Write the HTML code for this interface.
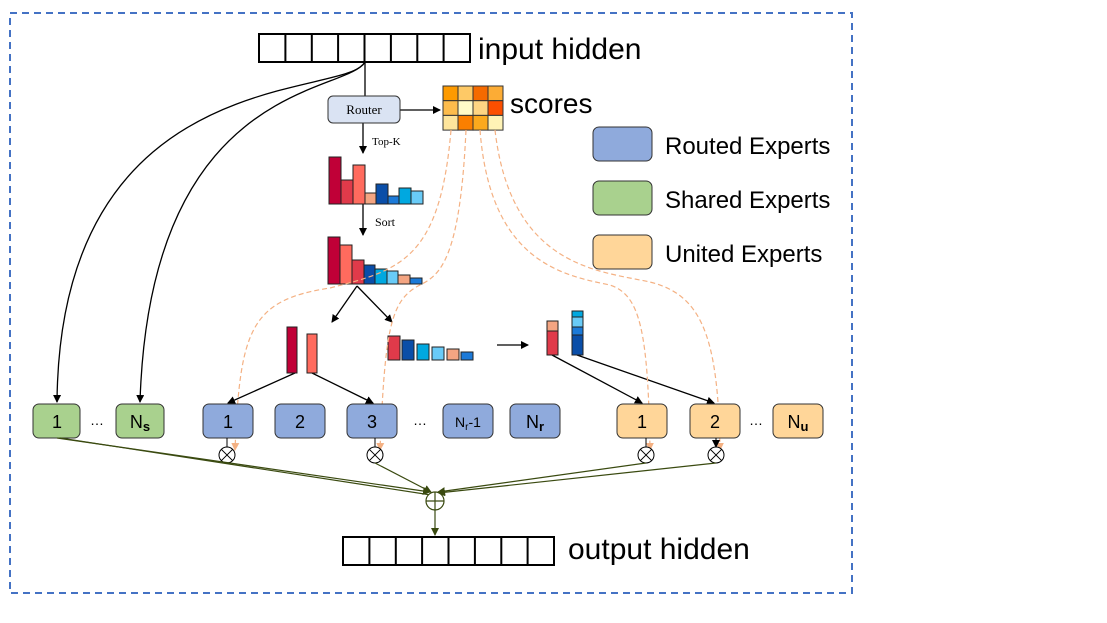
<!DOCTYPE html>
<html><head><meta charset="utf-8"><style>
html,body{margin:0;padding:0;background:#fff;width:1107px;height:623px;overflow:hidden}
svg{display:block}
.s{font-family:"Liberation Sans",sans-serif}
.r{font-family:"Liberation Serif",serif}
</style></head><body>
<svg width="1107" height="623" viewBox="0 0 1107 623" xmlns="http://www.w3.org/2000/svg">
<defs>
<marker id="a" markerWidth="8" markerHeight="8" refX="7" refY="4" orient="auto" markerUnits="userSpaceOnUse"><path d="M0,0 L8,4 L0,8 z" fill="#000"/></marker>
<marker id="g" markerWidth="8" markerHeight="8" refX="7" refY="4" orient="auto" markerUnits="userSpaceOnUse"><path d="M0,0 L8,4 L0,8 z" fill="#3a4a10"/></marker>
<marker id="o" markerWidth="8" markerHeight="8" refX="7" refY="4" orient="auto" markerUnits="userSpaceOnUse"><path d="M0,0 L8,4 L0,8 z" fill="#f4b183"/></marker>
</defs>
<rect x="10" y="13" width="842" height="580" fill="none" stroke="#4472c4" stroke-width="2" stroke-dasharray="7,5"/>
<g fill="none" stroke="#000" stroke-width="2">
<rect x="259" y="34" width="211" height="28"/>
<path d="M285.4,34v28M311.8,34v28M338.1,34v28M364.5,34v28M390.9,34v28M417.3,34v28M443.6,34v28"/>
</g>
<text x="478" y="59" class="s" font-size="30">input hidden</text>
<g fill="none" stroke="#000" stroke-width="1.3">
<path d="M365,62 V96"/>
<path d="M365,62 C345,100 60,60 57,402" marker-end="url(#a)"/>
<path d="M365,62 C345,95 150,80 140,402" marker-end="url(#a)"/>
<path d="M400,110 H440" marker-end="url(#a)"/>
<path d="M363,123 V153" marker-end="url(#a)"/>
<path d="M363,204 V235" marker-end="url(#a)"/>
<path d="M357,286 L332,322" marker-end="url(#a)"/>
<path d="M357,286 L392,322" marker-end="url(#a)"/>
<path d="M497,345 H528" marker-end="url(#a)"/>
<path d="M295,373 L228,403" marker-end="url(#a)"/>
<path d="M312,373 L373,403" marker-end="url(#a)"/>
<path d="M552,355 L642,403" marker-end="url(#a)"/>
<path d="M577,355 L714,403" marker-end="url(#a)"/>
</g>
<rect x="328" y="96" width="72" height="27" rx="5" fill="#dae3f3" stroke="#333" stroke-width="1"/>
<text x="364" y="114" class="r" font-size="13" text-anchor="middle">Router</text>
<text x="372" y="145" class="r" font-size="11">Top-K</text>
<text x="375" y="226" class="r" font-size="12">Sort</text>
<g stroke="#333" stroke-width="1">
<rect x="443" y="86" width="15" height="14.7" fill="#fd9a00"/><rect x="458" y="86" width="15" height="14.7" fill="#fec966"/><rect x="473" y="86" width="15" height="14.7" fill="#f56a00"/><rect x="488" y="86" width="15" height="14.7" fill="#fcac35"/>
<rect x="443" y="100.7" width="15" height="14.7" fill="#fdbc4c"/><rect x="458" y="100.7" width="15" height="14.7" fill="#fffbc8"/><rect x="473" y="100.7" width="15" height="14.7" fill="#fed583"/><rect x="488" y="100.7" width="15" height="14.7" fill="#fc4f00"/>
<rect x="443" y="115.4" width="15" height="14.7" fill="#fee59c"/><rect x="458" y="115.4" width="15" height="14.7" fill="#fb7f00"/><rect x="473" y="115.4" width="15" height="14.7" fill="#fba91d"/><rect x="488" y="115.4" width="15" height="14.7" fill="#fff3b6"/>
</g>
<text x="510" y="113" class="s" font-size="28">scores</text>
<g stroke="#222" stroke-width="1">
<rect x="329" y="157" width="12" height="47" fill="#c00037"/><rect x="341" y="180" width="12" height="24" fill="#e03a4a"/><rect x="353" y="165" width="12" height="39" fill="#ff6b5e"/><rect x="365" y="193" width="11" height="11" fill="#f4a582"/>
<rect x="376" y="184" width="12" height="20" fill="#0a4ea8"/><rect x="388" y="196" width="11" height="8" fill="#1c7ad8"/><rect x="399" y="188" width="12" height="16" fill="#00a8e0"/><rect x="411" y="191" width="12" height="13" fill="#69cbf7"/>
<rect x="328" y="237" width="12" height="47" fill="#c00037"/><rect x="340" y="245" width="12" height="39" fill="#ff6b5e"/><rect x="352" y="260" width="12" height="24" fill="#e03a4a"/><rect x="364" y="265" width="11" height="19" fill="#0a4ea8"/>
<rect x="375" y="269" width="12" height="15" fill="#00a8e0"/><rect x="387" y="271" width="11" height="13" fill="#69cbf7"/><rect x="398" y="275" width="12" height="9" fill="#f4a582"/><rect x="410" y="278" width="12" height="6" fill="#1c7ad8"/>
<rect x="287" y="327" width="10" height="46" fill="#c00037"/><rect x="307" y="334" width="10" height="39" fill="#ff6b5e"/>
<rect x="388" y="336" width="12" height="24" fill="#e03a4a"/><rect x="402" y="340" width="12" height="20" fill="#0a4ea8"/><rect x="417" y="344" width="12" height="16" fill="#00a8e0"/><rect x="432" y="347" width="12" height="13" fill="#69cbf7"/><rect x="447" y="349" width="12" height="11" fill="#f4a582"/><rect x="461" y="352" width="12" height="8" fill="#1c7ad8"/>
<rect x="547" y="321" width="11" height="10" fill="#f4a582"/><rect x="547" y="331" width="11" height="24" fill="#e03a4a"/>
<rect x="572" y="311" width="11" height="6" fill="#00a8e0"/><rect x="572" y="317" width="11" height="10" fill="#69cbf7"/><rect x="572" y="327" width="11" height="8" fill="#1c7ad8"/><rect x="572" y="335" width="11" height="20" fill="#0a4ea8"/>
</g>
<g fill="none" stroke="#f4b183" stroke-width="1.2" stroke-dasharray="5,3">
<path d="M451,130 C440,260 400,270 330,288 C250,300 240,330 235,450" marker-end="url(#o)"/>
<path d="M466,130 C460,260 440,275 420,285 C390,300 385,330 380,450" marker-end="url(#o)"/>
<path d="M480,130 C490,260 560,275 610,285 C640,295 648,330 650,450" marker-end="url(#o)"/>
<path d="M495,130 C510,260 590,270 640,280 C700,290 718,330 720,450" marker-end="url(#o)"/>
</g>
<g stroke="#333" stroke-width="1">
<rect x="33" y="404" width="47" height="34" rx="6" fill="#a9d18e"/><rect x="116" y="404" width="48" height="34" rx="6" fill="#a9d18e"/>
<rect x="203" y="404" width="50" height="34" rx="6" fill="#8faadc"/><rect x="275" y="404" width="50" height="34" rx="6" fill="#8faadc"/><rect x="347" y="404" width="50" height="34" rx="6" fill="#8faadc"/><rect x="443" y="404" width="50" height="34" rx="6" fill="#8faadc"/><rect x="510" y="404" width="50" height="34" rx="6" fill="#8faadc"/>
<rect x="617" y="404" width="50" height="34" rx="6" fill="#ffd699"/><rect x="690" y="404" width="50" height="34" rx="6" fill="#ffd699"/><rect x="773" y="404" width="50" height="34" rx="6" fill="#ffd699"/>
</g>
<g class="s" font-size="18" text-anchor="middle">
<text x="57" y="428">1</text><text x="140" y="428">N<tspan font-size="13" font-weight="bold" dy="3">s</tspan></text>
<text x="228" y="428">1</text><text x="300" y="428">2</text><text x="372" y="428">3</text>
<text x="468" y="427" font-size="14">N<tspan font-size="10" dy="3">r</tspan><tspan dy="-3">-1</tspan></text>
<text x="535" y="428">N<tspan font-size="13" font-weight="bold" dy="3">r</tspan></text>
<text x="642" y="428">1</text><text x="715" y="428">2</text><text x="798" y="428">N<tspan font-size="13" font-weight="bold" dy="3">u</tspan></text>
<text x="97" y="425" font-size="14">…</text><text x="420" y="425" font-size="14">…</text><text x="756" y="425" font-size="14">…</text>
</g>
<g fill="#fff" stroke="#000" stroke-width="1">
<path d="M227,438V447M375,438V447M646,438V447M716,438V447" marker-end="url(#a)"/>
<circle cx="227" cy="455" r="8"/><circle cx="375" cy="455" r="8"/><circle cx="646" cy="455" r="8"/><circle cx="716" cy="455" r="8"/>
<path d="M221.3,449.3l11.4,11.4M232.7,449.3l-11.4,11.4M369.3,449.3l11.4,11.4M380.7,449.3l-11.4,11.4M640.3,449.3l11.4,11.4M651.7,449.3l-11.4,11.4M710.3,449.3l11.4,11.4M721.7,449.3l-11.4,11.4" fill="none"/>
</g>
<g fill="none" stroke="#3a4a10" stroke-width="1.2">
<path d="M57,438 L430,492" marker-end="url(#g)"/>
<path d="M60,438 L431,495"/>
<path d="M375,463 L431,492" marker-end="url(#g)"/>
<path d="M646,463 L438,492" marker-end="url(#g)"/>
<path d="M716,463 L438,493" marker-end="url(#g)"/>
<circle cx="435" cy="501" r="9" fill="#fff"/>
<path d="M426,501H444M435,492V510"/>
<path d="M435,510V535" marker-end="url(#g)"/>
</g>
<g fill="none" stroke="#000" stroke-width="2">
<rect x="343" y="537" width="211" height="28"/>
<path d="M369.4,537v28M395.8,537v28M422.1,537v28M448.5,537v28M474.9,537v28M501.3,537v28M527.6,537v28"/>
</g>
<text x="568" y="559" class="s" font-size="30">output hidden</text>
<g stroke="#333" stroke-width="1">
<rect x="593" y="127" width="59" height="34" rx="6" fill="#8faadc"/>
<rect x="593" y="181" width="59" height="34" rx="6" fill="#a9d18e"/>
<rect x="593" y="235" width="59" height="34" rx="6" fill="#ffd699"/>
</g>
<g class="s" font-size="24">
<text x="665" y="154">Routed Experts</text>
<text x="665" y="208">Shared Experts</text>
<text x="665" y="262">United Experts</text>
</g>
</svg>
</body></html>
